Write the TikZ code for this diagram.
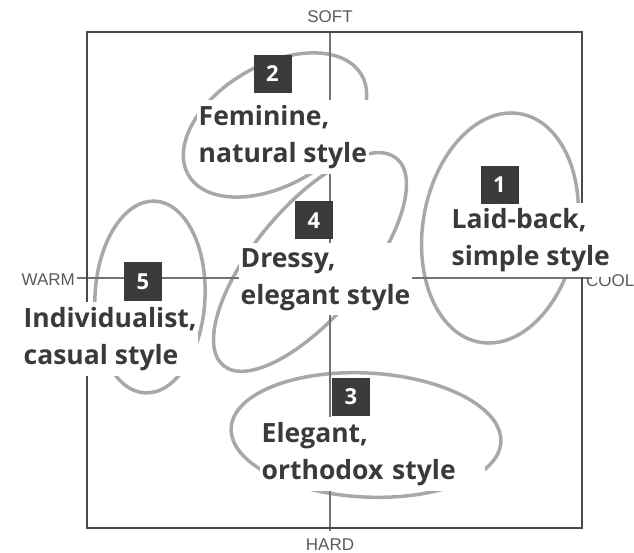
\documentclass[tikz,border=0pt]{standalone}
\usepackage{fontspec}
\setmainfont{Open Sans}
\newfontfamily\axisfont{Liberation Sans}
\definecolor{ellgray}{HTML}{A8A8A8}
\definecolor{boxgray}{HTML}{3B3B3B}
\definecolor{txtgray}{HTML}{3A3A3A}
\definecolor{axgray}{HTML}{5A5A5A}
\definecolor{framegray}{HTML}{4A4A4A}
\begin{document}
\begin{tikzpicture}[x=1pt,y=-1pt,
  ell/.style={draw=ellgray, line width=3.5pt},
  frame/.style={draw=framegray, line width=2pt},
  axisline/.style={draw=axgray!85, line width=1.3pt},
  numbox/.style={fill=boxgray, text=white, font=\bfseries\fontsize{22}{22}\selectfont, minimum width=38pt, minimum height=38pt, inner sep=0pt},
  lbl/.style={fill=white, text=txtgray, font=\bfseries\fontsize{26.5}{37}\selectfont, align=left, inner xsep=1.5pt, inner ysep=5pt, anchor=north west},
  axl/.style={text=axgray, font=\axisfont\fontsize{17}{17}\selectfont, inner sep=0pt}
]
\useasboundingbox (0,0) rectangle (634,553);
\clip (0,0) rectangle (634,553);
% ellipses
\draw[ell, rotate around={-10:(500,228)}] (500,228) ellipse [x radius=77, y radius=116];
\draw[ell, rotate around={30:(275,125)}] (275,125) ellipse [x radius=100, y radius=60];
\draw[ell, rotate around={50:(310,262)}] (310,262) ellipse [x radius=135, y radius=55];
\draw[ell, rotate around={-3:(150,297)}] (150,297) ellipse [x radius=55, y radius=96];
\draw[ell, rotate around={-3:(366,435)}] (366,435) ellipse [x radius=135, y radius=62];
% frame and axes
\coordinate (tl) at (87,32);
\coordinate (br) at (582,528);
\coordinate (vt) at (330,32);
\coordinate (vb) at (330,531);
\coordinate (hl) at (77,278);
\coordinate (hr) at (592,278);
\draw[axisline] (vt) -- (vb);
\draw[axisline] (hl) -- (hr);
\draw[frame] (tl) rectangle (br);
% axis labels
\node[axl] (soft) at (330,17) {SOFT};
\node[axl] (hard) at (330,545) {HARD};
\node[axl, anchor=east] (warm) at (75,280) {WARM};
\node[axl, anchor=west] (cool) at (586,281) {COOL};
% labels
\node[lbl] (l2) at (197,100) {Feminine,\\natural style};
\node[lbl] (l4) at (239,243) {Dressy,\\elegant style};
\node[lbl] (l1) at (450,203) {Laid-back,\\simple style};
\node[lbl] (l5) at (22,302) {Individualist,\\casual style};
\node[lbl, text width=222pt] (l3) at (260,417) {Elegant,\\orthodox style};
% numbers
\node[numbox] (n2) at (272.5,74) {2};
\node[numbox] (n4) at (314,220.5) {4};
\node[numbox] (n1) at (499.5,185) {1};
\node[numbox] (n5) at (143,281.5) {5};
\node[numbox] (n3) at (351,397) {3};
\end{tikzpicture}
\end{document}
